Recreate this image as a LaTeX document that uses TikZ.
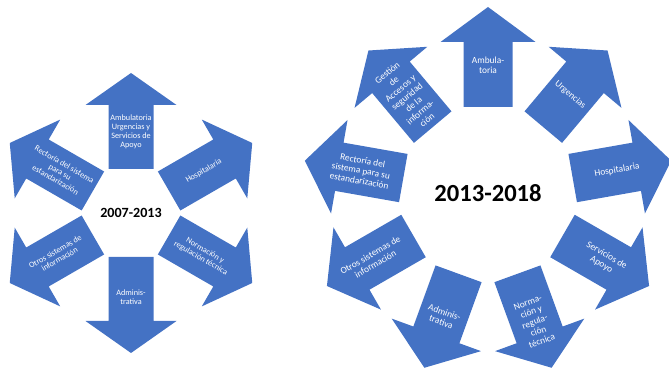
\documentclass[tikz,border=0pt]{standalone}
\usepackage{fontspec}
\setmainfont{Carlito}
\usepackage{tikz}
\definecolor{arrowblue}{RGB}{68,114,196}

\begin{document}
\begin{tikzpicture}
	[
		x=0.03cm, y=0.03cm,
		smallarrow/.pic={\fill[arrowblue] (44,-22.5) -- (108,-22.5) -- (108,-45.5) -- (140,0) -- (108,45.5) -- (108,22.5) -- (44,22.5) -- cycle;},
		bigarrow/.pic={\fill[arrowblue] (86,-24.5) -- (151,-24.5) -- (151,-47.5) -- (186,0) -- (151,47.5) -- (151,24.5) -- (86,24.5) -- cycle;},
		smalltext/.style={text=white, font=\fontsize{7}{7.6}\selectfont, align=center, inner sep=0pt},
		bigtext/.style={text=white, font=\fontsize{8}{8.8}\selectfont, align=center, inner sep=0pt},
		yeartext/.style={text=black, inner sep=0pt},
	]

	\useasboundingbox (0,0) rectangle (669,375);

	% 2007-2013
	\node[yeartext, font=\bfseries\fontsize{12}{14}\selectfont] (old) at (131,162) {2007-2013};

	\pic[rotate=90] at (old) {smallarrow};
	\pic[rotate=30] at (old) {smallarrow};
	\pic[rotate=-30] at (old) {smallarrow};
	\pic[rotate=-90] at (old) {smallarrow};
	\pic[rotate=210] at (old) {smallarrow};
	\pic[rotate=150] at (old) {smallarrow};

	\node[smalltext] (ambold) at ([shift={(90:81)}]old) {Ambulatoria\\Urgencias y\\Servicios de\\Apoyo};
	\node[smalltext, rotate=30] (hospold) at ([shift={(30:84)}]old) {Hospitalaria};
	\node[smalltext, rotate=-30] (normold) at ([shift={(-30:83)}]old) {Normación y\\regulación técnica};
	\node[smalltext] (adminold) at ([shift={(-90:84)}]old) {Adminis-\\trativa};
	\node[smalltext, rotate=30] (otrosold) at ([shift={(210:85)}]old) {Otros sistemas de\\información};
	\node[smalltext, rotate=-30] (rectold) at ([shift={(150:82)}]old) {Rectoría del sistema\\para su\\estandarización};

	% 2013-2018
	\node[yeartext, font=\bfseries\fontsize{21}{24}\selectfont] (new) at (488,182) {2013-2018};

	\pic[rotate=90] at (new) {bigarrow};
	\pic[rotate=50] at (new) {bigarrow};
	\pic[rotate=10] at (new) {bigarrow};
	\pic[rotate=-30] at (new) {bigarrow};
	\pic[rotate=-70] at (new) {bigarrow};
	\pic[rotate=-110] at (new) {bigarrow};
	\pic[rotate=-150] at (new) {bigarrow};
	\pic[rotate=170] at (new) {bigarrow};
	\pic[rotate=130] at (new) {bigarrow};

	\node[bigtext] (ambnew) at ([shift={(90:128)}]new) {Ambula-\\toria};
	\node[bigtext, rotate=-40] (urgnew) at ([shift={(50:128)}]new) {Urgencias};
	\node[bigtext, rotate=10] (hospnew) at ([shift={(10:131)}]new) {Hospitalaria};
	\node[bigtext, rotate=-30] (servnew) at ([shift={(-30:134)}]new) {Servicios de\\Apoyo};
	\node[bigtext, rotate=20] (normnew) at ([shift={(-70:137)}]new) {Norma-\\ción y\\regula-\\ción\\técnica};
	\node[bigtext, rotate=-20] (adminnew) at ([shift={(-110:132)}]new) {Adminis-\\trativa};
	\node[bigtext, rotate=30] (otrosnew) at ([shift={(-150:133)}]new) {Otros sistemas de\\información};
	\node[bigtext, rotate=-10] (rectnew) at ([shift={(170:129)}]new) {Rectoría del\\sistema para su\\estandarización};
	\node[bigtext, rotate=40] (gestnew) at ([shift={(130:126)}]new) {Gestión\\de\\Accesos y\\seguridad\\de la\\informa-\\ción};

\end{tikzpicture}
\end{document}
